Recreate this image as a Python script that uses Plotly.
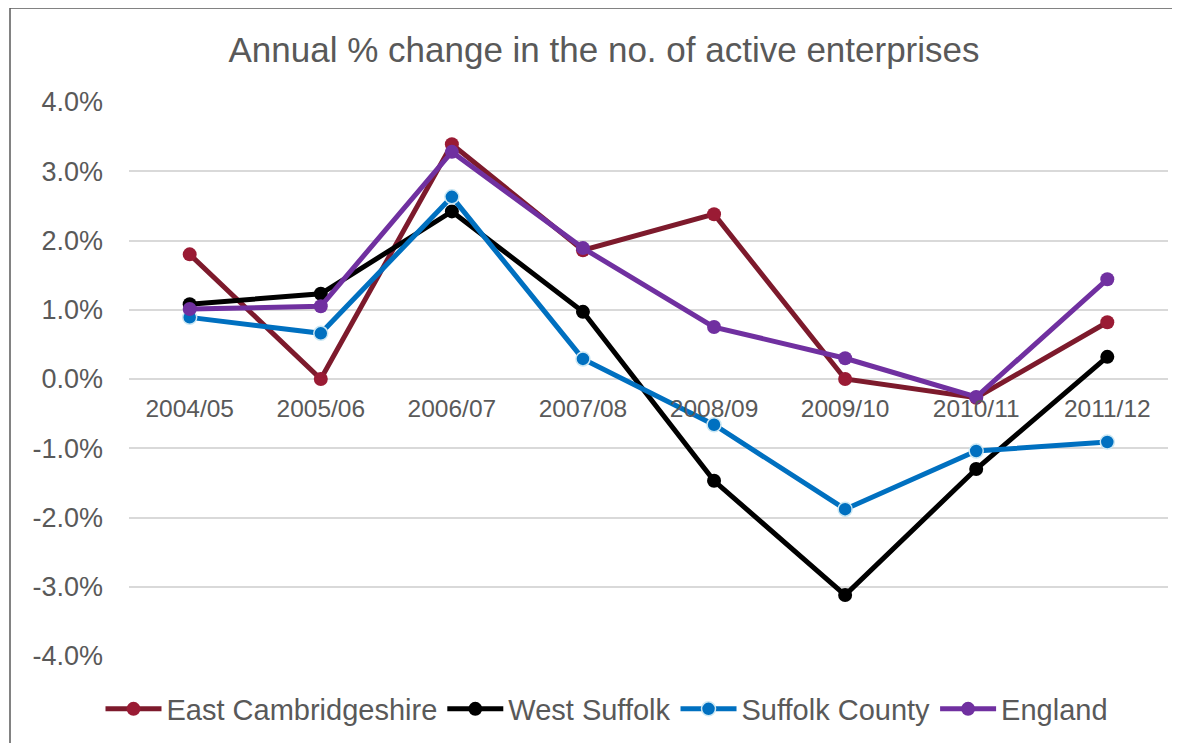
import plotly.graph_objects as go

years = ["2004/05", "2005/06", "2006/07", "2007/08", "2008/09", "2009/10", "2010/11", "2011/12"]
east_cambs = [1.80, 0.00, 3.39, 1.86, 2.38, 0.00, -0.27, 0.82]
west_suffolk = [1.08, 1.23, 2.42, 0.97, -1.47, -3.12, -1.30, 0.32]
suffolk_county = [0.89, 0.66, 2.63, 0.29, -0.66, -1.88, -1.04, -0.91]
england = [1.01, 1.05, 3.28, 1.89, 0.75, 0.30, -0.26, 1.44]

y_ticks = [-4, -3, -2, -1, 0, 1, 2, 3, 4]
y_labels = ["%.1f%%" % v for v in y_ticks]

series = [
    ("East Cambridgeshire", east_cambs, "#7D1A2C", "#9A1B34", "#9A1B34", 0),
    ("West Suffolk", west_suffolk, "#000000", "#000000", "#000000", 0),
    ("Suffolk County", suffolk_county, "#0070C0", "#0070C0", "#CBE7F3", 1.5),
    ("England", england, "#7030A0", "#7030A0", "#7030A0", 0),
]

fig = go.Figure()
for name, vals, lc, mc, mlc, mlw in series:
    fig.add_trace(go.Scatter(
        x=years, y=vals, name=name, mode="lines+markers",
        line=dict(color=lc, width=5),
        marker=dict(color=mc, size=14, line=dict(color=mlc, width=mlw)),
    ))

OFF = 8  # page body margin
W, H = 1180 - OFF, 743 - OFF
# target plot area in page pixels
PL, PR, PT, PB = 129, 1168, 102, 656
L, T = PL - OFF, PT - OFF
R, B = W - (PR - OFF), H - (PB - OFF)
pw, ph = PR - PL, PB - PT

def px_x(p):
    return (p - PL) / pw

def px_y(p):
    return (PB - p) / ph

fig.update_layout(
    width=W, height=H,
    margin=dict(l=L, r=R, t=T, b=B, autoexpand=False),
    paper_bgcolor="white", plot_bgcolor="white",
    font=dict(family="Liberation Sans, Arial, sans-serif", color="#595959"),
    title=dict(text="Annual % change in the no. of active enterprises",
               x=(604 - OFF) / W, xanchor="center", y=1 - (50 - OFF) / H, yanchor="middle",
               yref="container", xref="container",
               font=dict(size=35, color="#595959")),
    xaxis=dict(anchor="free", position=0.5, showgrid=False, showline=False,
               zeroline=False, ticks="", tickfont=dict(size=24.5, color="#595959"),
               ticklabelstandoff=12),
    yaxis=dict(range=[-4, 4], tickvals=y_ticks, ticktext=y_labels,
               showgrid=True, gridcolor="#D9D9D9", gridwidth=1.5,
               zeroline=True, zerolinecolor="#D9D9D9", zerolinewidth=1.5,
               showline=False, ticks="", tickfont=dict(size=27, color="#595959"),
               ticklabelstandoff=25, fixedrange=True),
    legend=dict(orientation="h", x=px_x(607), xanchor="center",
                y=px_y(709), yanchor="middle",
                font=dict(size=29, color="#595959"), itemwidth=56,
                tracegroupgap=0),
    showlegend=True,
    shapes=[dict(type="rect", xref="paper", yref="paper",
                 x0=px_x(10), x1=px_x(1200), y0=px_y(760), y1=px_y(8),
                 line=dict(color="#595959", width=1.5), layer="below")],
)

fig.write_html("out.html")
